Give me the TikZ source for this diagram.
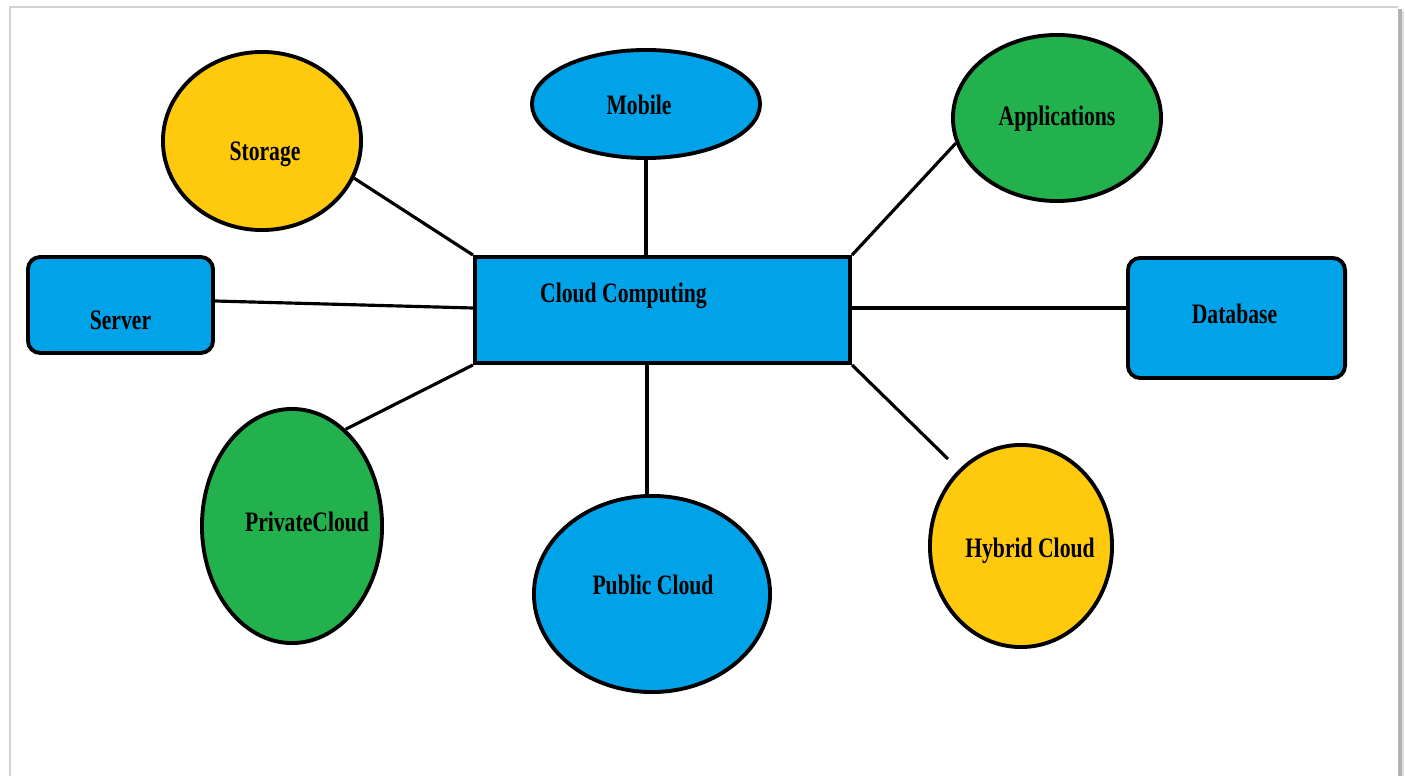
\documentclass[tikz,border=0pt]{standalone}
\usepackage{fontspec}
\setmainfont{Liberation Serif}[FakeStretch=0.77]
\usetikzlibrary{shapes.geometric}
\definecolor{pblue}{RGB}{0,162,232}
\definecolor{pyellow}{RGB}{255,201,14}
\definecolor{pgreen}{RGB}{34,177,76}
\begin{document}
\begin{tikzpicture}[x=0.01cm,y=-0.01cm,
  lbl/.style={font=\fontsize{8}{9}\selectfont\bfseries, text=black, inner sep=0pt},
  oval/.style={ellipse, draw=black, line width=1.1pt, inner sep=0pt},
  box/.style={rectangle, draw=black, line width=1.1pt, inner sep=0pt},
  rbox/.style={box, rounded corners=3.5pt},
  conn/.style={line width=0.9pt, black}]
\useasboundingbox (0,0) rectangle (1405,776);
% page frame
\fill[white] (10,7) rectangle (1400,776);
\draw[gray!35, line width=0.6pt] (10,776) -- (10,7) -- (1398,7);
\draw[gray!60, line width=1.4pt] (1400,9) -- (1400,776);
\draw[gray!25, line width=0.8pt] (1403,11) -- (1403,776);

% central node
\node[box, fill=pblue, minimum width=3.75cm, minimum height=1.06cm,
  label={[lbl, shift={(-39,-14)}]center:Cloud Computing}] (cc) at (662.5,310) {};

% satellites
\node[oval, fill=pyellow, minimum width=1.98cm, minimum height=1.78cm,
  label={[lbl, shift={(3,13)}]center:Storage}] (storage) at (262,141) {};
\node[oval, fill=pblue, minimum width=2.28cm, minimum height=1.08cm,
  label={[lbl, shift={(-7,1)}]center:Mobile}] (mobile) at (646,104) {};
\node[oval, fill=pgreen, minimum width=2.08cm, minimum height=1.66cm,
  label={[lbl, shift={(0,1)}]center:Applications}] (apps) at (1057,118) {};
\node[rbox, fill=pblue, minimum width=1.85cm, minimum height=0.96cm,
  label={[lbl, shift={(0,15)}]center:Server}] (server) at (120.5,305) {};
\node[rbox, fill=pblue, minimum width=2.17cm, minimum height=1.20cm,
  label={[lbl, shift={(-2,-4)}]center:Database}] (db) at (1236.5,318) {};
\node[oval, fill=pgreen, minimum width=1.80cm, minimum height=2.34cm,
  label={[lbl, shift={(15,-4)}]center:PrivateCloud}] (priv) at (292,526) {};
\node[oval, fill=pblue, minimum width=2.36cm, minimum height=1.96cm,
  label={[lbl, shift={(1,-9)}]center:Public Cloud}] (pub) at (652,594) {};
\node[oval, fill=pyellow, minimum width=1.82cm, minimum height=2.02cm,
  label={[lbl, shift={(9,5)}]center:Hybrid Cloud}] (hyb) at (1021,546) {};
\coordinate (hybend) at (948,459);

% connectors
\draw[conn] (storage.-22) -- (cc.north west);
\draw[conn] (mobile.south) -- (mobile.south |- cc.north);
\draw[conn] (apps.194) -- (cc.north east);
\draw[conn] ([yshift=0.04cm]server.east) -- ([yshift=0.02cm]cc.west);
\draw[conn] ([yshift=0.02cm]cc.east) -- ([yshift=0.02cm]cc.east -| db.west);
\draw[conn] (priv.61) -- (cc.south west);
\draw[conn] ([xshift=-0.05cm]pub.north) -- ([xshift=-0.05cm]pub.north |- cc.south);
\draw[conn] (hybend) -- (cc.south east);
\end{tikzpicture}
\end{document}
